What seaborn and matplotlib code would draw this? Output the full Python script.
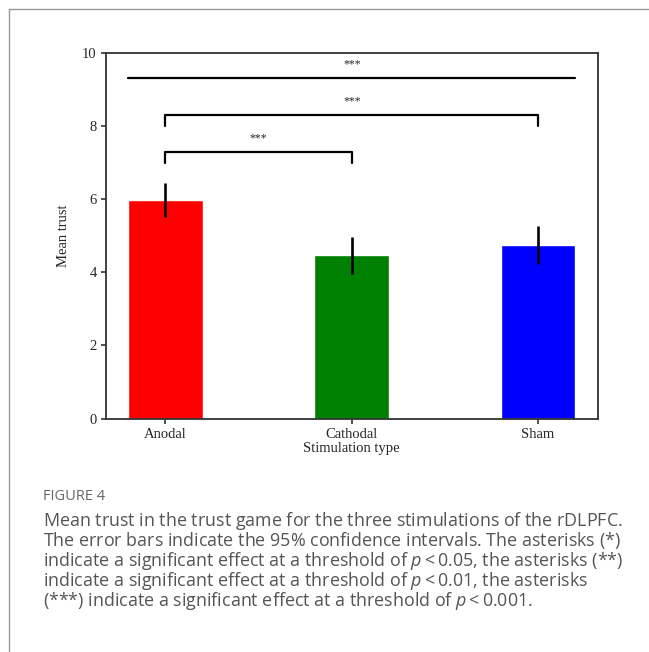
import matplotlib
matplotlib.use("Agg")
import matplotlib.pyplot as plt
from matplotlib.lines import Line2D
import seaborn as sns
import pandas as pd

# values
stim_types = ["Anodal", "Cathodal", "Sham"]
mean_trust = [5.98, 4.46, 4.75]
ci_half = [0.47, 0.51, 0.52]
bar_colors = ["#ff0000", "#008000", "#0000ff"]

# significance annotations: (left idx, right idx, line height, tick bottom)
brackets = [(0, 1, 7.3, 7.0), (0, 2, 8.3, 8.0)]
overall_line = 9.3
sig_label = "***"

caption_head = "FIGURE 4"
# every line carries a bit of mathtext so that all lines get the same layout
caption_lines = [
    "Mean trust in the trust game for the three stimulations of the rDLPFC$\\mathregular{.}$",
    "The error bars indicate the 95% confidence intervals. The asterisks (*$\\mathregular{)}$",
    "indicate a significant effect at a threshold of $\\it{p}$\u2009<\u20090.05, the asterisks (**)",
    "indicate a significant effect at a threshold of $\\it{p}$\u2009<\u20090.01, the asterisks",
    "(***) indicate a significant effect at a threshold of $\\it{p}$\u2009<\u20090.001.",
]


def main():
    sns.set_style("white")
    plt.rcParams["font.family"] = ["Liberation Serif", "DejaVu Serif"]
    plt.rcParams["mathtext.fontset"] = "custom"
    plt.rcParams["mathtext.it"] = "Open Sans:italic"
    plt.rcParams["mathtext.rm"] = "Open Sans"

    df = pd.DataFrame({"stim": stim_types, "trust": mean_trust})

    fig = plt.figure(figsize=(6.49, 6.52), dpi=100)
    ax = fig.add_axes([0.163, 0.358, 0.758, 0.561])

    sns.barplot(data=df, x="stim", y="trust", hue="stim", palette=bar_colors,
                width=0.4, legend=False, ax=ax, saturation=1)
    ax.errorbar(range(len(stim_types)), mean_trust, yerr=ci_half, fmt="none",
                ecolor="black", elinewidth=1.9, capsize=0)

    ax.set_xlim(-0.32, 2.32)
    ax.set_ylim(0, 10)
    ax.set_yticks([0, 2, 4, 6, 8, 10])
    ax.set_xlabel("Stimulation type", fontsize=10.5, labelpad=1)
    ax.set_ylabel("Mean trust", fontsize=10.5, labelpad=9)
    ax.tick_params(axis="both", labelsize=10.5, direction="out", length=3.5,
                   width=1.2, color="#333333", pad=3, left=True, bottom=True)
    for sp in ax.spines.values():
        sp.set_color("#333333")
        sp.set_linewidth(1.3)

    # significance lines
    ax.plot([-0.2, 2.2], [overall_line, overall_line], color="black", lw=1.6)
    ax.text(1.0, overall_line + 0.22, sig_label, ha="center", va="bottom", fontsize=8.5)
    for i, j, h, b in brackets:
        ax.plot([i, i, j, j], [b, h, h, b], color="black", lw=1.6)
        ax.text((i + j) / 2, h + 0.2, sig_label, ha="center", va="bottom", fontsize=8.5)

    # page frame lines
    fig.add_artist(Line2D([9 / 649, 1], [1 - 9 / 652, 1 - 9 / 652], color="#999999", lw=1))
    fig.add_artist(Line2D([9 / 649, 9 / 649], [0, 1 - 9 / 652], color="#999999", lw=1))

    fig.text(43 / 649, 1 - 497 / 652, caption_head, fontsize=10.5, color="#666666",
             family="Open Sans", va="center", ha="left")
    fig.text(43 / 649, 1 - 561 / 652, "\n".join(caption_lines), fontsize=12.9,
             color="#555555", family="Open Sans", va="center", ha="left",
             linespacing=0.88)

    fig.savefig("out.png", dpi=100)


if __name__ == "__main__":
    main()
